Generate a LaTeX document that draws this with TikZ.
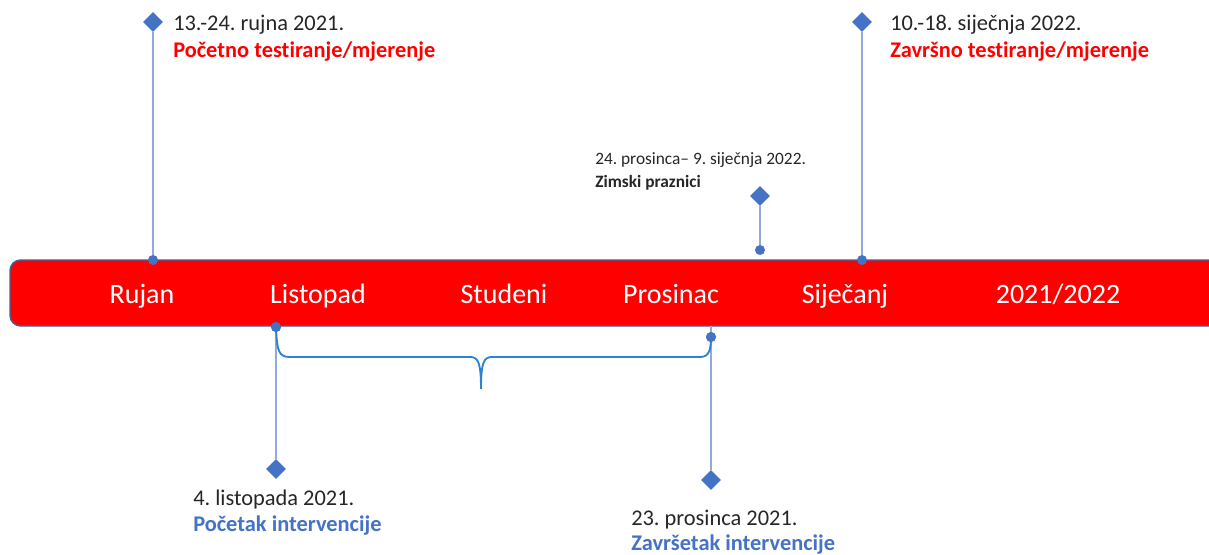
\documentclass[tikz,border=0pt]{standalone}
\usepackage{fontspec}
\setmainfont{Carlito}[Ligatures={NoCommon}]
\frenchspacing
\usetikzlibrary{shapes.geometric}
\definecolor{barred}{HTML}{FF0000}
\definecolor{barborder}{HTML}{41629E}
\definecolor{mblue}{HTML}{4472C4}
\definecolor{lineblue}{HTML}{8FAADC}
\definecolor{braceblue}{HTML}{2E83D0}
\tikzset{
  diam/.style={diamond, fill=mblue, inner sep=0pt, minimum width=15pt, minimum height=15pt},
  dot/.style={circle, fill=mblue, inner sep=0pt, minimum size=7.5pt},
  stem/.style={draw=lineblue, line width=0.9pt},
  month/.style={text=white, font=\fontsize{21}{25}\selectfont, anchor=base},
  datetxt/.style={anchor=base west, inner sep=0pt, font=\fontsize{16.8}{20}\selectfont, text=black!85},
  smalltxt/.style={anchor=base west, inner sep=0pt, font=\fontsize{13}{15}\selectfont, text=black!85},
  redlab/.style={anchor=base west, inner sep=0pt, font=\fontsize{16.8}{20}\selectfont\bfseries, text=barred},
  bluelab/.style={anchor=base west, inner sep=0pt, font=\fontsize{16.8}{20}\selectfont\bfseries, text=mblue},
  blacklab/.style={anchor=base west, inner sep=0pt, font=\fontsize{13}{15}\selectfont\bfseries, text=black!85},
}
\begin{document}
\begin{tikzpicture}[x=0.75pt, y=-0.75pt]
\useasboundingbox (0,0) rectangle (1209,554);
\begin{scope}
\clip (0,0) rectangle (1209,554);
% bar
\draw[fill=barred, draw=barborder, line width=1.1pt, rounded corners=8pt] (10,260) rectangle (1240,326);
\end{scope}
% month labels
\node[month] (rujan) at (142,303) {Rujan};
\node[month] (listopad) at (318,303) {Listopad};
\node[month] (studeni) at (504,303) {Studeni};
\node[month] (prosinac) at (671,303) {Prosinac};
\node[month] (sijecanj) at (845,303) {Siječanj};
\node[month] (godina) at (1058,303) {2021/2022};

% marker 1: Rujan
\node[diam] (d1) at (153,22) {};
\node[dot] (p1) at (153,260) {};
\draw[stem] (d1) -- (p1);
\node[datetxt] (t1a) at (173,30) {13.-24. rujna 2021.};
\node[redlab] (t1b) at (173,57) {Početno testiranje/mjerenje};

% marker 5: Siječanj
\node[diam] (d5) at (862,22) {};
\node[dot] (p5) at (862,260) {};
\draw[stem] (d5) -- (p5);
\node[datetxt] (t5a) at (890,30) {10.-18. siječnja 2022.};
\node[redlab] (t5b) at (890,57) {Završno testiranje/mjerenje};

% marker 4: Zimski praznici
\node[diam] (d4) at (760,196) {};
\node[dot] (p4) at (760,250) {};
\draw[stem] (d4) -- (p4);
\node[smalltxt] (t4a) at (595,164) {24. prosinca– 9. siječnja 2022.};
\node[blacklab] (t4b) at (595,187) {Zimski praznici};

% marker 2: Listopad
\node[dot] (p2) at (276,327) {};
\node[diam] (d2) at (276,469) {};
\draw[stem] (p2) -- (d2);
\node[datetxt] (t2a) at (193,505) {4. listopada 2021.};
\node[bluelab] (t2b) at (193,531) {Početak intervencije};

% marker 3: Prosinac
\coordinate (b3) at (711,326);
\node[dot] (p3) at (711,337) {};
\node[diam] (d3) at (711,480) {};
\draw[stem] (b3) -- (d3);
\node[datetxt] (t3a) at (631,525) {23. prosinca 2021.};
\node[bluelab] (t3b) at (631,550) {Završetak intervencije};

% brace
\draw[draw=braceblue, line width=1.4pt]
  (p2.center) .. controls (277,352) and (279,357) .. (290,357)
  -- (470,357) .. controls (478,357) and (481,362) .. (481,389)
  .. controls (481,362) and (484,357) .. (492,357)
  -- (700,357) .. controls (709,357) and (711,350) .. (p3.center);
\node[dot] at (p2.center) {};
\node[dot] at (p3.center) {};
\end{tikzpicture}
\end{document}
